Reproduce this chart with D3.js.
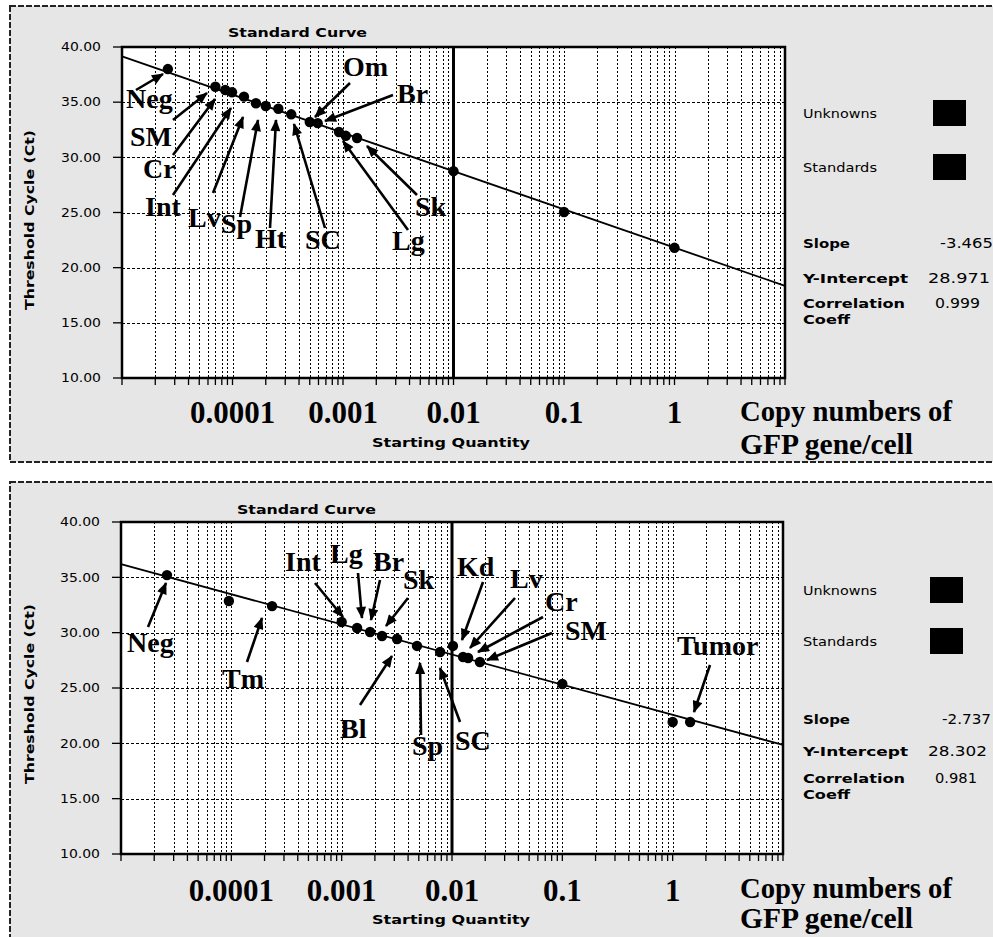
<!DOCTYPE html>
<html><head><meta charset="utf-8">
<script src="https://cdn.jsdelivr.net/npm/d3@7"></script>
<style>body{margin:0;background:#fff}svg{display:block}</style>
</head><body>
<script>
// ---------------- data ----------------
const xTickValues = [0.0001, 0.001, 0.01, 0.1, 1];
const xTickLabels = ["0.0001", "0.001", "0.01", "0.1", "1"];
const yTickValues = [10, 15, 20, 25, 30, 35, 40];
const yTickLabels = ["10.00", "15.00", "20.00", "25.00", "30.00", "35.00", "40.00"];
const xDomain = [1e-5, 10];
const yDomain = [10, 40];

// top panel
const topUnknownQty = [2.6e-5, 7.0e-5, 8.6e-5, 9.9e-5, 1.27e-4, 1.63e-4, 2.0e-4, 2.6e-4, 3.4e-4, 5.0e-4, 5.9e-4, 9.2e-4, 1.06e-3, 1.34e-3];
const topUnknownCt  = [38.0, 36.4, 36.1, 35.9, 35.5, 34.9, 34.65, 34.4, 33.9, 33.2, 33.1, 32.3, 31.95, 31.75];
const topStandardQty = [0.01, 0.1, 1];
const topStandardCt  = [28.75, 25.05, 21.8];
const topFitQty = [1e-5, 10];
const topFitCt  = [39.15, 18.35];
const topStatValues = ["-3.465", "28.971", "0.999"];

// bottom panel
const bottomUnknownQty = [2.61e-5, 9.5e-5, 2.34e-4, 1.0e-3, 1.38e-3, 1.81e-3, 2.32e-3, 3.18e-3, 4.82e-3, 7.8e-3, 0.0102, 0.0126, 0.0140, 0.0179, 1.44];
const bottomUnknownCt  = [35.2, 32.86, 32.4, 30.96, 30.42, 30.06, 29.7, 29.43, 28.8, 28.25, 28.8, 27.8, 27.71, 27.35, 21.93];
const bottomStandardQty = [0.1, 1];
const bottomStandardCt  = [25.36, 21.93];
const bottomFitQty = [1e-5, 10];
const bottomFitCt  = [36.2, 19.85];
const bottomStatValues = ["-2.737", "28.302", "0.981"];

const statNames = ["Slope", "Y-Intercept", "Correlation"];
const legendNames = ["Unknowns", "Standards"];

// annotation layout (absolute pixels): label position + arrow start/end
const topAnnotations = [
  {t:"Neg", x:126, y:108, a:[136,90,163,74]},
  {t:"SM",  x:130, y:146, a:[173,120,207,93]},
  {t:"Cr",  x:143, y:178, a:[173,155,215,99]},
  {t:"Int", x:145, y:216, a:[173,195,231,108]},
  {t:"Lv",  x:188, y:227, a:[213,193,243,117]},
  {t:"Sp",  x:221, y:233, a:[240,217,258,120]},
  {t:"Ht",  x:255, y:248, a:[270,228,276,120]},
  {t:"SC",  x:305, y:249, a:[325,228,294,124]},
  {t:"Om",  x:343, y:76,  a:[350,83,315,117]},
  {t:"Br",  x:397, y:103, a:[393,95,325,121]},
  {t:"Lg",  x:392, y:250, a:[408,230,343,141]},
  {t:"Sk",  x:415, y:216, a:[417,195,367,146]}
];
const bottomAnnotations = [
  {t:"Neg", x:127, y:652, a:[148,627,166,583]},
  {t:"Tm",  x:222, y:688, a:[247,662,262,618]},
  {t:"Int", x:285, y:571, a:[315,583,343,617]},
  {t:"Lg",  x:330, y:563, a:[358,573,362,618]},
  {t:"Br",  x:373, y:571, a:[380,580,371,620]},
  {t:"Sk",  x:403, y:589, a:[408,598,386,626]},
  {t:"Bl",  x:340, y:738, a:[360,705,392,656]},
  {t:"Sp",  x:412, y:755, a:[421,735,420,663]},
  {t:"SC",  x:455, y:750, a:[460,722,440,668]},
  {t:"Kd",  x:457, y:576, a:[483,582,462,640]},
  {t:"Lv",  x:510, y:588, a:[515,598,470,648]},
  {t:"Cr",  x:545, y:611, a:[543,617,478,652]},
  {t:"SM",  x:565, y:640, a:[552,633,487,660]},
  {t:"Tumor", x:677, y:655, a:[710,665,694,712]}
];

// ---------------- drawing ----------------
const W = 993, H = 937;
const svg = d3.select("body").append("svg").attr("width", W).attr("height", H);
const defs = svg.append("defs");
defs.append("marker").attr("id","ah").attr("markerUnits","userSpaceOnUse")
  .attr("viewBox","0 0 12 10").attr("refX",11).attr("refY",5)
  .attr("markerWidth",13).attr("markerHeight",10).attr("orient","auto")
  .append("path").attr("d","M0,0 L12,5 L0,10 Z").attr("fill","#000");

const SANS = "'DejaVu Sans', Verdana, sans-serif";
const SERIF = "'Liberation Serif', 'Times New Roman', serif";

function panel(cfg) {
  const g = svg.append("g");
  g.append("rect").attr("x", 10).attr("y", cfg.top).attr("width", 995).attr("height", cfg.height)
    .attr("fill", "#e6e6e6").attr("stroke", "#222").attr("stroke-width", 2).attr("stroke-dasharray", "6,2");

  const x = d3.scaleLog().domain(xDomain).range([cfg.x0, cfg.x1]);
  const y = d3.scaleLinear().domain(yDomain).range([cfg.y1, cfg.y0]);

  g.append("rect").attr("x", cfg.x0).attr("y", cfg.y0).attr("width", cfg.x1 - cfg.x0)
    .attr("height", cfg.y1 - cfg.y0).attr("fill", "#fff");

  const vt = x.ticks();
  g.append("g").attr("shape-rendering", "crispEdges").selectAll("line")
    .data(vt.filter(v => v > xDomain[0] && v < xDomain[1])).join("line")
    .attr("x1", d => Math.round(x(d)) + 0.5).attr("x2", d => Math.round(x(d)) + 0.5)
    .attr("y1", cfg.y0).attr("y2", cfg.y1)
    .attr("stroke", "#000").attr("stroke-width", 1).attr("stroke-dasharray", "2,2");
  g.append("g").attr("shape-rendering", "crispEdges").selectAll("line")
    .data(yTickValues.filter(v => v > yDomain[0] && v < yDomain[1])).join("line")
    .attr("x1", cfg.x0).attr("x2", cfg.x1)
    .attr("y1", d => Math.round(y(d)) + 0.5).attr("y2", d => Math.round(y(d)) + 0.5)
    .attr("stroke", "#000").attr("stroke-width", 1).attr("stroke-dasharray", "3,2");
  g.append("line").attr("x1", x(0.01)).attr("x2", x(0.01)).attr("y1", cfg.y0).attr("y2", cfg.y1)
    .attr("stroke", "#000").attr("stroke-width", 3);

  g.append("g").selectAll("line").data(vt).join("line")
    .attr("x1", d => x(d)).attr("x2", d => x(d)).attr("y1", cfg.y1).attr("y2", cfg.y1 + 7)
    .attr("stroke", "#000").attr("stroke-width", 1.3);
  g.append("g").selectAll("line").data(yTickValues).join("line")
    .attr("x1", cfg.x0 - 9).attr("x2", cfg.x0).attr("y1", d => y(d)).attr("y2", d => y(d))
    .attr("stroke", "#000").attr("stroke-width", 1.3);
  g.append("g").selectAll("text").data(yTickValues).join("text")
    .attr("x", cfg.x0 - 21).attr("y", d => y(d)).attr("dy", "0.36em")
    .attr("text-anchor", "end").attr("font-family", SANS).attr("font-size", 12)
    .attr("textLength", 40).attr("lengthAdjust", "spacingAndGlyphs")
    .text((d, i) => yTickLabels[i]);

  g.append("rect").attr("x", cfg.x0).attr("y", cfg.y0).attr("width", cfg.x1 - cfg.x0)
    .attr("height", cfg.y1 - cfg.y0).attr("fill", "none").attr("stroke", "#000").attr("stroke-width", 2.5);

  const line = d3.line().x(d => x(d[0])).y(d => y(d[1]));
  g.append("path").datum(cfg.fitQty.map((q, i) => [q, cfg.fitCt[i]]))
    .attr("d", line).attr("fill", "none").attr("stroke", "#000").attr("stroke-width", 1.8);

  const pts = cfg.uQty.map((q, i) => [q, cfg.uCt[i]]).concat(cfg.sQty.map((q, i) => [q, cfg.sCt[i]]));
  g.append("g").selectAll("circle").data(pts).join("circle")
    .attr("cx", d => x(d[0])).attr("cy", d => y(d[1])).attr("r", 5.2).attr("fill", "#000");

  g.append("g").selectAll("text").data(xTickValues).join("text")
    .attr("x", d => x(d)).attr("y", cfg.xLabY).attr("text-anchor", "middle")
    .attr("font-family", SERIF).attr("font-weight", "bold").attr("font-size", 31)
    .text((d, i) => xTickLabels[i]);

  g.append("text").attr("x", cfg.titleX).attr("y", cfg.titleY).attr("font-family", SANS)
    .attr("font-weight", "bold").attr("font-size", 12.5).attr("textLength", 139)
    .attr("lengthAdjust", "spacingAndGlyphs").text("Standard Curve");
  g.append("text").attr("x", 372).attr("y", cfg.xTitleY).attr("font-family", SANS)
    .attr("font-weight", "bold").attr("font-size", 12.5).attr("textLength", 158)
    .attr("lengthAdjust", "spacingAndGlyphs").text("Starting Quantity");
  g.append("text").attr("transform", `translate(34,${cfg.yTitleY}) rotate(-90)`)
    .attr("text-anchor", "middle").attr("font-family", SANS).attr("font-weight", "bold")
    .attr("font-size", 12.5).attr("textLength", 180).attr("lengthAdjust", "spacingAndGlyphs")
    .text("Threshold Cycle (Ct)");

  legendNames.forEach((n, i) => {
    g.append("text").attr("x", 803).attr("y", cfg.legY[i]).attr("font-family", SANS)
      .attr("font-size", 12.5).attr("textLength", 74).attr("lengthAdjust", "spacingAndGlyphs").text(n);
    g.append("rect").attr("x", cfg.sqX).attr("y", cfg.legY[i] - 18).attr("width", 33).attr("height", 26)
      .attr("fill", "#000");
  });
  const nameLen = [47, 105, 102];
  const valLen = cfg.valLen;
  statNames.forEach((n, i) => {
    g.append("text").attr("x", 803).attr("y", cfg.statY[i]).attr("font-family", SANS)
      .attr("font-weight", "bold").attr("font-size", 12.5).attr("textLength", nameLen[i])
      .attr("lengthAdjust", "spacingAndGlyphs").text(n);
    g.append("text").attr("x", cfg.valX[i]).attr("y", cfg.statY[i]).attr("font-family", SANS)
      .attr("font-size", 13.5).attr("textLength", valLen[i]).attr("lengthAdjust", "spacingAndGlyphs")
      .text(cfg.stats[i]);
  });
  g.append("text").attr("x", 803).attr("y", cfg.statY[2] + 16).attr("font-family", SANS)
    .attr("font-weight", "bold").attr("font-size", 12.5).attr("textLength", 47)
    .attr("lengthAdjust", "spacingAndGlyphs").text("Coeff");

  g.append("text").attr("x", 740).attr("y", cfg.capY[0]).attr("font-family", SERIF)
    .attr("font-weight", "bold").attr("font-size", 30).attr("textLength", 212)
    .attr("lengthAdjust", "spacingAndGlyphs").text("Copy numbers of");
  g.append("text").attr("x", 740).attr("y", cfg.capY[1]).attr("font-family", SERIF)
    .attr("font-weight", "bold").attr("font-size", 30).attr("textLength", 173)
    .attr("lengthAdjust", "spacingAndGlyphs").text("GFP gene/cell");

  const ag = g.append("g");
  cfg.ann.forEach(a => {
    ag.append("line").attr("x1", a.a[0]).attr("y1", a.a[1]).attr("x2", a.a[2]).attr("y2", a.a[3])
      .attr("stroke", "#000").attr("stroke-width", 2.6).attr("marker-end", "url(#ah)");
    ag.append("text").attr("x", a.x).attr("y", a.y).attr("font-family", SERIF)
      .attr("font-weight", "bold").attr("font-size", 28).text(a.t);
  });
}

panel({
  top: 6, height: 456, x0: 122, x1: 785, y0: 47, y1: 378,
  fitQty: topFitQty, fitCt: topFitCt,
  uQty: topUnknownQty, uCt: topUnknownCt, sQty: topStandardQty, sCt: topStandardCt,
  xLabY: 423, titleX: 228, titleY: 37, xTitleY: 447, yTitleY: 220,
  legY: [118, 172], sqX: 933, statY: [248, 283, 308], valX: [940, 928, 935], valLen: [53, 62, 45],
  stats: topStatValues, capY: [421, 454], ann: topAnnotations
});
panel({
  top: 482, height: 470, x0: 121, x1: 783, y0: 522, y1: 854,
  fitQty: bottomFitQty, fitCt: bottomFitCt,
  uQty: bottomUnknownQty, uCt: bottomUnknownCt, sQty: bottomStandardQty, sCt: bottomStandardCt,
  xLabY: 901, titleX: 237, titleY: 514, xTitleY: 924, yTitleY: 694,
  legY: [595, 646], sqX: 930, statY: [724, 756, 783], valX: [942, 928, 935], valLen: [49, 59, 42],
  stats: bottomStatValues, capY: [898, 928], ann: bottomAnnotations
});
</script>
</body></html>
